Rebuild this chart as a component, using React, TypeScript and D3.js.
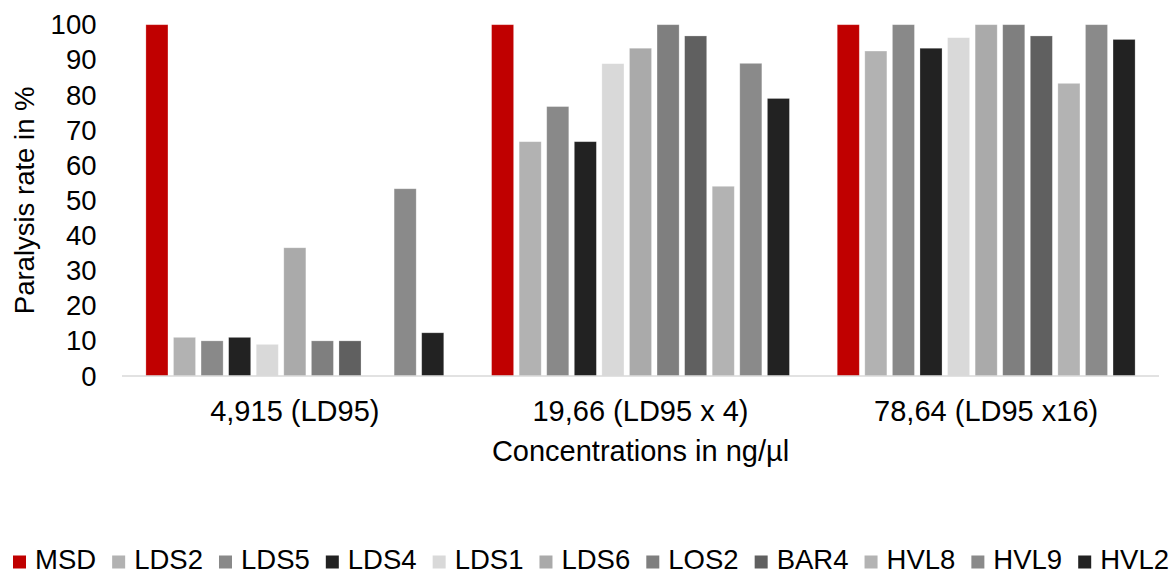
import React, { useEffect, useRef } from "react";
import * as d3 from "d3";

// Concentration groups on the x axis
const categories = ["4,915 (LD95)", "19,66 (LD95 x 4)", "78,64 (LD95 x16)"];

// Strains in legend order
const seriesNames = ["MSD", "LDS2", "LDS5", "LDS4", "LDS1", "LDS6", "LOS2", "BAR4", "HVL8", "HVL9", "HVL2"];
const seriesColors = ["#C00000", "#B2B2B2", "#898989", "#222222", "#D9D9D9", "#AAAAAA", "#7F7F7F", "#606060", "#B3B3B3", "#8A8A8A", "#222222"];

// Paralysis rate (%) per strain, one value per concentration
const MSD = [100, 100, 100];
const LDS2 = [11, 66.7, 92.5];
const LDS5 = [10, 76.7, 100];
const LDS4 = [11, 66.7, 93.3];
const LDS1 = [9, 88.9, 96.3];
const LDS6 = [36.5, 93.3, 100];
const LOS2 = [10, 100, 100];
const BAR4 = [10, 96.8, 96.8];
const HVL8 = [0, 54, 83.3];
const HVL9 = [53.3, 89, 100];
const HVL2 = [12.3, 79, 95.8];

const yTicks = [0, 10, 20, 30, 40, 50, 60, 70, 80, 90, 100];

const seriesValues = [MSD, LDS2, LDS5, LDS4, LDS1, LDS6, LOS2, BAR4, HVL8, HVL9, HVL2];

const W = 1172;
const H = 575;
const FONT = "'Liberation Sans', Arial, sans-serif";
const FS = 27.5;
const FS_X = 29;

export default function App() {
  const ref = useRef<SVGSVGElement>(null);

  useEffect(() => {
    const svg = d3.select(ref.current);
    svg.selectAll("*").remove();

    const plot = { left: 122, right: 1159, top: 24.7, bottom: 376 };

    const x0 = d3.scaleBand<string>().domain(categories).range([plot.left, plot.right]).padding(0);
    const bw = x0.bandwidth();
    const outer = 23.9;
    const x1 = d3
      .scaleBand<string>()
      .domain(seriesNames)
      .range([outer, bw - outer])
      .paddingInner(0.2)
      .paddingOuter(0);
    const y = d3.scaleLinear().domain([0, 100]).range([plot.bottom, plot.top]);

    const rows = categories.map((c, ci) => ({
      category: c,
      values: seriesNames.map((s, si) => ({ series: s, color: seriesColors[si], value: seriesValues[si][ci] })),
    }));

    // Bars
    const groups = svg
      .append("g")
      .selectAll("g")
      .data(rows)
      .join("g")
      .attr("transform", (d) => `translate(${x0(d.category)},0)`);

    groups
      .selectAll("rect")
      .data((d) => d.values.filter((v) => v.value > 0))
      .join("rect")
      .attr("x", (d) => x1(d.series)!)
      .attr("width", x1.bandwidth())
      .attr("y", (d) => y(d.value))
      .attr("height", (d) => plot.bottom - y(d.value))
      .attr("fill", (d) => d.color)
      .attr("stroke", "#ffffff")
      .attr("stroke-opacity", 0.35)
      .attr("stroke-width", 0.75);

    // Baseline
    svg
      .append("line")
      .attr("x1", plot.left)
      .attr("x2", plot.right)
      .attr("y1", plot.bottom)
      .attr("y2", plot.bottom)
      .attr("stroke", "#D9D9D9")
      .attr("stroke-width", 1.5);

    // Y tick labels
    svg
      .append("g")
      .selectAll("text")
      .data(yTicks)
      .join("text")
      .attr("x", 96.5)
      .attr("y", (d) => y(d))
      .attr("dy", "0.35em")
      .attr("text-anchor", "end")
      .attr("font-family", FONT)
      .attr("font-size", FS)
      .attr("fill", "#000")
      .text((d) => d3.format("d")(d));

    // Y axis title
    svg
      .append("text")
      .attr("transform", `translate(34,${(plot.top + plot.bottom) / 2}) rotate(-90)`)
      .attr("text-anchor", "middle")
      .attr("font-family", FONT)
      .attr("font-size", FS)
      .attr("fill", "#000")
      .text("Paralysis rate in %");

    // Category labels
    svg
      .append("g")
      .selectAll("text")
      .data(categories)
      .join("text")
      .attr("x", (d) => x0(d)! + bw / 2)
      .attr("y", 421)
      .attr("text-anchor", "middle")
      .attr("font-family", FONT)
      .attr("font-size", FS_X)
      .attr("fill", "#000")
      .text((d) => d);

    // X axis title
    svg
      .append("text")
      .attr("x", (plot.left + plot.right) / 2)
      .attr("y", 461)
      .attr("text-anchor", "middle")
      .attr("font-family", FONT)
      .attr("font-size", FS_X)
      .attr("fill", "#000")
      .text("Concentrations in ng/µl");

    // Legend: markers + labels spread between fixed ends
    const legendStart = 13;
    const legendEnd = 1169;
    const marker = 13;
    const markerGap = 9;
    const legend = svg.append("g");
    const items = legend
      .selectAll("g")
      .data(seriesNames.map((s, i) => ({ name: s, color: seriesColors[i] })))
      .join("g");
    items
      .append("rect")
      .attr("width", marker)
      .attr("height", marker)
      .attr("y", 555.5)
      .attr("fill", (d) => d.color);
    const labels = items
      .append("text")
      .attr("y", 569)
      .attr("font-family", FONT)
      .attr("font-size", FS)
      .attr("fill", "#000")
      .text((d) => d.name);
    const widths: number[] = [];
    labels.each(function () {
      widths.push((this as SVGTextElement).getComputedTextLength());
    });
    const used = widths.reduce((a, w) => a + w + marker + markerGap, 0);
    const gap = (legendEnd - legendStart - used) / (seriesNames.length - 1);
    let cx = legendStart;
    items.each(function (_d, i) {
      const g = d3.select(this);
      g.select("rect").attr("x", cx);
      g.select("text").attr("x", cx + marker + markerGap);
      cx += marker + markerGap + widths[i] + gap;
    });
  }, []);

  return (
    <svg
      ref={ref}
      width={W}
      height={H}
      style={{ position: "absolute", left: 0, top: 0, background: "#fff", display: "block" }}
    />
  );
}
